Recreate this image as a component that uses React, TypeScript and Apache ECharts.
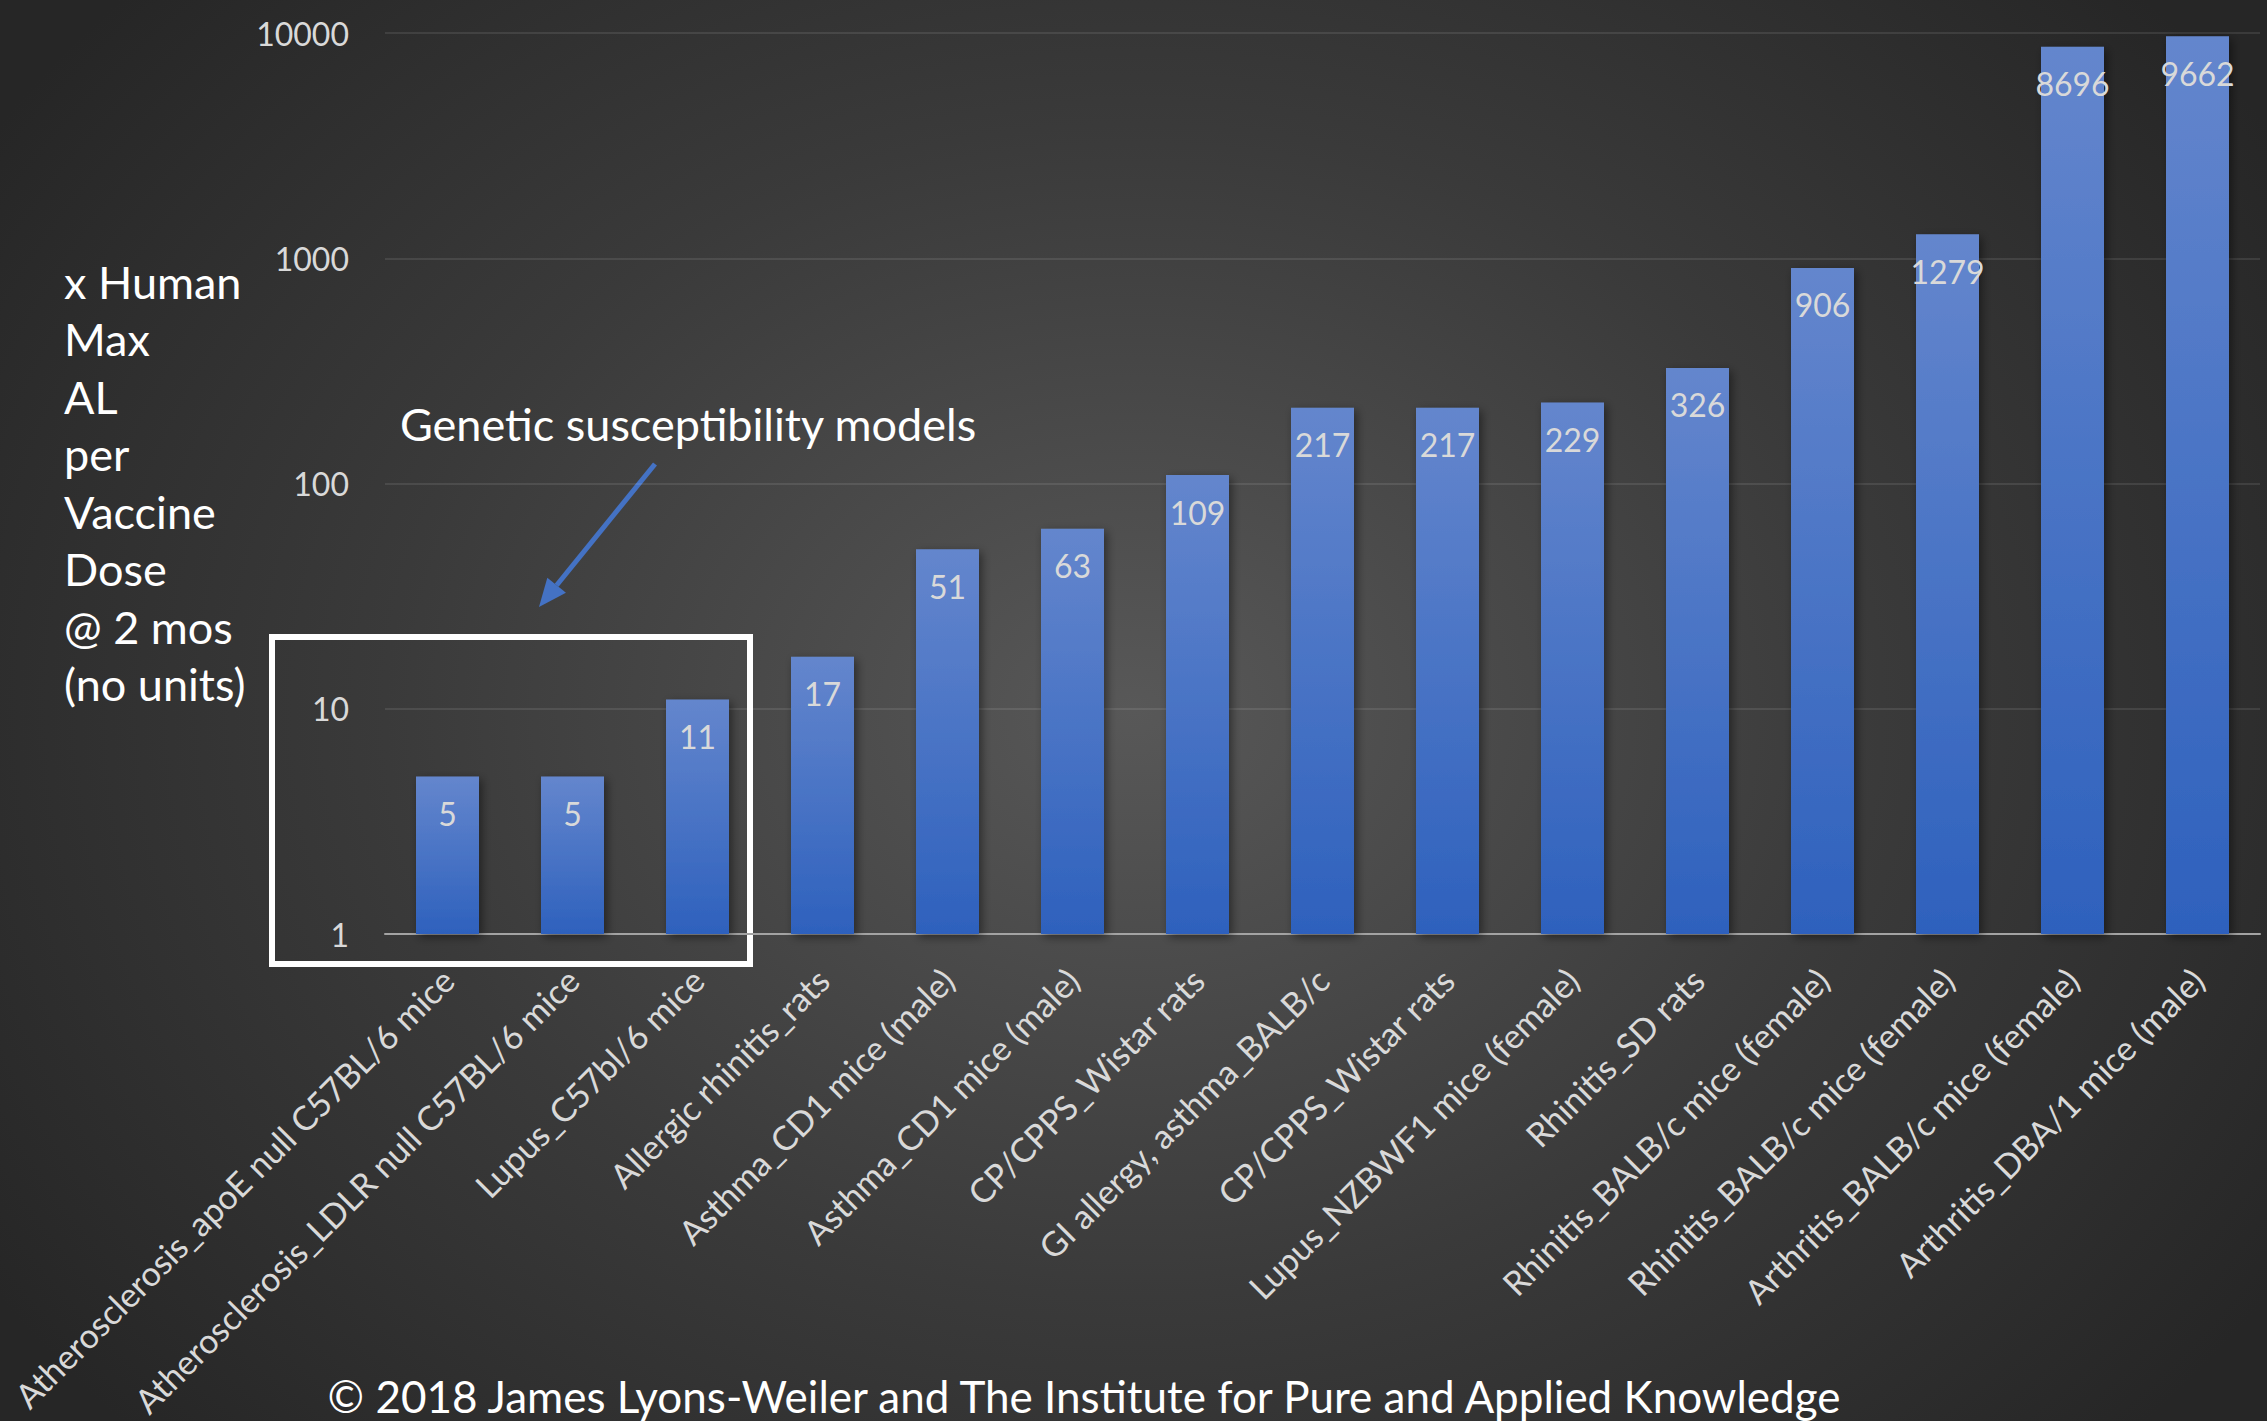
import React, { useEffect, useRef } from "react";
import * as echarts from "echarts";

const W = 2267;
const H = 1421;

const categories = [
  "Atherosclerosis_apoE null C57BL/6 mice",
  "Atherosclerosis_LDLR null C57BL/6 mice",
  "Lupus_C57bl/6 mice",
  "Allergic rhinitis_rats",
  "Asthma_CD1 mice (male)",
  "Asthma_CD1 mice (male)",
  "CP/CPPS_Wistar rats",
  "GI allergy, asthma_BALB/c",
  "CP/CPPS_Wistar rats",
  "Lupus_NZBWF1 mice (female)",
  "Rhinitis_SD rats",
  "Rhinitis_BALB/c mice (female)",
  "Rhinitis_BALB/c mice (female)",
  "Arthritis_BALB/c mice (female)",
  "Arthritis_DBA/1 mice (male)",
];

const values = [5, 5, 11, 17, 51, 63, 109, 217, 217, 229, 326, 906, 1279, 8696, 9662];

const axisTitleLines = [
  "x Human",
  "Max",
  "AL",
  "per",
  "Vaccine",
  "Dose",
  "@ 2 mos",
  "(no units)",
];

const annotationText = "Genetic susceptibility models";
const creditText =
  "\u00A9 2018 James Lyons-Weiler and The Institute for Pure and Applied Knowledge";

const FONT = "Lato, 'Open Sans', sans-serif";

// arrow pointing at the highlighted group of bars
const arrowFrom = [655, 464];
const arrowTo = [539, 607];

function arrowElements() {
  const dx = arrowTo[0] - arrowFrom[0];
  const dy = arrowTo[1] - arrowFrom[1];
  const len = Math.sqrt(dx * dx + dy * dy);
  const ux = dx / len;
  const uy = dy / len;
  const headLen = 28;
  const headHalf = 12;
  const bx = arrowTo[0] - ux * headLen;
  const by = arrowTo[1] - uy * headLen;
  const nx = -uy;
  const ny = ux;
  return [
    {
      type: "line",
      shape: { x1: arrowFrom[0], y1: arrowFrom[1], x2: bx, y2: by },
      style: { stroke: "#4472c4", lineWidth: 5 },
    },
    {
      type: "polygon",
      shape: {
        points: [
          [arrowTo[0], arrowTo[1]],
          [bx + nx * headHalf, by + ny * headHalf],
          [bx - nx * headHalf, by - ny * headHalf],
        ],
      },
      style: { fill: "#4472c4" },
    },
  ];
}

export default function App() {
  const ref = useRef<HTMLDivElement>(null);

  useEffect(() => {
    document.body.style.margin = "0";
    document.body.style.overflow = "hidden";
    if (!ref.current) return;
    const chart = echarts.init(ref.current, undefined, { renderer: "svg" });

    const option = {
      animation: false,
      backgroundColor: "transparent",
      textStyle: { fontFamily: FONT },
      grid: { left: 385, right: 7, top: 33, bottom: 487, containLabel: false },
      xAxis: {
        type: "category",
        data: categories,
        axisLine: { show: true, lineStyle: { color: "#a3a3a3", width: 2 } },
        axisTick: { show: false },
        axisLabel: {
          interval: 0,
          rotate: 45,
          margin: 40,
          color: "#d9d9d9",
          fontSize: 34,
          fontFamily: FONT,
        },
      },
      yAxis: {
        type: "log",
        logBase: 10,
        min: 1,
        max: 10000,
        axisLine: { show: false },
        axisTick: { show: false },
        axisLabel: {
          color: "#d9d9d9",
          fontSize: 32,
          margin: 36,
          fontFamily: FONT,
          formatter: (v: number) => String(Math.round(v)),
        },
        splitLine: {
          show: true,
          lineStyle: { color: "rgba(255,255,255,0.13)", width: 1.5 },
        },
      },
      series: [
        {
          type: "bar",
          data: values,
          barWidth: 63,
          itemStyle: {
            color: new echarts.graphic.LinearGradient(0, 0, 0, 1, [
              { offset: 0, color: "#6486cd" },
              { offset: 1, color: "#2e61bd" },
            ]),
            shadowColor: "rgba(0,0,0,0.45)",
            shadowBlur: 10,
            shadowOffsetX: 3,
            shadowOffsetY: 3,
          },
          label: {
            show: true,
            position: "insideTop",
            distance: 21,
            color: "#d9d9d9",
            fontSize: 32,
            fontFamily: FONT,
          },
        },
      ],
      graphic: [
        {
          type: "text",
          x: 64,
          y: 253,
          style: {
            text: axisTitleLines.join("\n"),
            fill: "#ffffff",
            fontSize: 45,
            fontFamily: FONT,
            lineHeight: 57.5,
            verticalAlign: "top",
          },
        },
        {
          type: "text",
          x: 400,
          y: 424,
          style: {
            text: annotationText,
            fill: "#ffffff",
            fontSize: 45,
            fontFamily: FONT,
            verticalAlign: "middle",
          },
        },
        {
          type: "rect",
          shape: { x: 272, y: 637, width: 478, height: 327 },
          style: { fill: "none", stroke: "#ffffff", lineWidth: 6 },
        },
        ...arrowElements(),
        {
          type: "text",
          x: 1084,
          y: 1396,
          style: {
            text: creditText,
            fill: "#ffffff",
            fontSize: 44,
            fontFamily: FONT,
            align: "center",
            verticalAlign: "middle",
          },
        },
      ],
    };

    chart.setOption(option as any);
    return () => {
      chart.dispose();
    };
  }, []);

  return (
    <div
      ref={ref}
      style={{
        position: "absolute",
        left: 0,
        top: 0,
        width: W,
        height: H,
        background:
          "radial-gradient(ellipse 60% 75% at 50% 50%, #585858 0%, #3a3a3a 55%, #262626 100%)",
      }}
    />
  );
}
